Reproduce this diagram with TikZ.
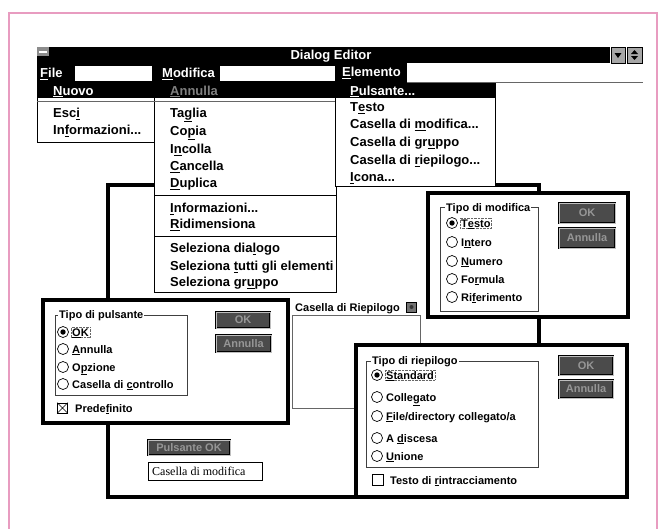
\documentclass[tikz,border=0pt]{standalone}
\usepackage{fontspec}
\setmainfont{Liberation Sans}
\newfontfamily\boxserif{Liberation Serif}
\usetikzlibrary{positioning}

\definecolor{rosa}{RGB}{232,156,192}
\definecolor{btngray}{RGB}{75,75,75}
\definecolor{btntext}{RGB}{150,150,150}
\newcommand{\menufont}{\fontsize{13}{15}\selectfont\bfseries}
\newcommand{\dlgfont}{\fontsize{11}{13}\selectfont\bfseries}

\begin{document}
\begin{tikzpicture}[x=1pt,y=-1pt,
    menuitem/.style={anchor=west,inner sep=0pt,text height=9pt,text depth=0pt,font=\menufont},
    dlgitem/.style={anchor=west,inner sep=0pt,text height=8pt,text depth=0pt,font=\dlgfont},
    menubox/.style={draw,fill=white,line width=0.8pt},
    dlgbox/.style={draw,fill=white,line width=3.2pt},
    grpbox/.style={draw=black!75,line width=0.6pt},
    radio/.style={circle,draw,fill=white,inner sep=0pt,minimum size=11pt,line width=0.7pt},
    chkbox/.style={draw,inner sep=0pt,minimum size=10pt,line width=0.7pt},
    focus/.style={draw=black!60,densely dotted,inner sep=1pt},
    btn/.style={draw=black,double=black!25,double distance=0.8pt,line width=0.8pt,
                fill=btngray,text=btntext,font=\dlgfont,inner sep=0pt}]
    \path[use as bounding box] (0,0) rectangle (661,528);
    \draw[rosa,line width=1.2pt] (9,530) -- (9,13) -- (657,13) -- (657,530);

    % dialog behind everything
    \draw[dlgbox] (108,185) rectangle (539,497);
    \node[dlgitem] (lbLabel) at (295,307) {Casella di Riepilogo};
    \node[draw,fill=black!55,inner sep=0pt,minimum size=10pt,line width=0.8pt] (lbButton) at (411.5,307) {};
    \fill[black!80] (lbButton.center) circle (2pt);
    \draw[black!60,line width=0.7pt] (292,315) rectangle (420,408);
    \node[btn,minimum width=82pt,minimum height=15pt] (okButton) at (189,447.5) {Pulsante OK};
    \draw[line width=0.7pt] (148,462) rectangle (262,480);
    \node[anchor=west,inner sep=0pt,font=\boxserif\fontsize{12}{14}\selectfont] (editBox) at (152,471) {Casella di modifica};

    % title bar
    \fill (37,47) rectangle (610,63);
    \fill[black!45] (37,47) rectangle (49,56);
    \fill[white] (39,50.5) rectangle (47,52.5);
    \node[menuitem,anchor=center,text=white] (title) at (331,55) {Dialog Editor};
    \draw[fill=black!35,line width=0.8pt] (611,47) rectangle (625,63);
    \draw[fill=black!35,line width=0.8pt] (627,47) rectangle (642,63);
    \fill (614.5,53) -- (621.5,53) -- (618,58) -- cycle;
    \fill (631,54) -- (638,54) -- (634.5,50) -- cycle;
    \fill (631,56) -- (638,56) -- (634.5,60) -- cycle;

    % menu bar
    \fill (37,63) rectangle (407,83);
    \fill[white] (75,65.5) rectangle (152,81);
    \fill[white] (220,65.5) rectangle (335,81);
    \draw[black!60,line width=0.8pt] (407,82) -- (643,82);
    \node[menuitem,text=white] (mFile) at (40,73)  {\underline{F}ile};
    \node[menuitem,text=white] (mMod)  at (162,73) {\underline{M}odifica};
    \node[menuitem,text=white] (mElem) at (342,72) {\underline{E}lemento};

    % open menus
    \draw[menubox] (37,83) rectangle (154,142);
    \draw[menubox] (154,83) rectangle (336,292);
    \draw[menubox] (335,83) rectangle (495,186);
    \fill (37,83) rectangle (495,98);
    \draw[black!60,line width=0.6pt] (37,101) -- (335,101);
    \draw[line width=0.8pt] (154,195) -- (336,195);
    \draw[line width=0.8pt] (154,236) -- (336,236);

    \node[menuitem,text=white]   (nuovo)   at (53,90.5)  {\underline{N}uovo};
    \node[menuitem]              (esci)    at (53,113)   {Esc\underline{i}};
    \node[menuitem]              (infoF)   at (53,130)   {In\underline{f}ormazioni...};

    \node[menuitem,text=black!50] (annulla) at (170,90.5) {\underline{A}nnulla};
    \node[menuitem] (taglia)  at (170,113) {Ta\underline{g}lia};
    \node[menuitem] (copia)   at (170,131) {Co\underline{p}ia};
    \node[menuitem] (incolla) at (170,149) {I\underline{n}colla};
    \node[menuitem] (cancella) at (170,166) {\underline{C}ancella};
    \node[menuitem] (duplica) at (170,183) {\underline{D}uplica};
    \node[menuitem] (infoM)   at (170,208) {\underline{I}nformazioni...};
    \node[menuitem] (ridim)   at (170,224) {\underline{R}idimensiona};
    \node[menuitem] (selDlg)  at (170,248) {Seleziona dia\underline{l}ogo};
    \node[menuitem] (selAll)  at (170,266) {Seleziona \underline{t}utti gli elementi};
    \node[menuitem] (selGrp)  at (170,282) {Seleziona gr\underline{u}ppo};

    \node[menuitem,text=white] (pulsante) at (350,90.5) {\underline{P}ulsante...};
    \node[menuitem] (testo)   at (350,107) {T\underline{e}sto};
    \node[menuitem] (casMod)  at (350,124) {Casella di \underline{m}odifica...};
    \node[menuitem] (casGrp)  at (350,142) {Casella di gr\underline{u}ppo};
    \node[menuitem] (casRie)  at (350,160) {Casella di \underline{r}iepilogo...};
    \node[menuitem] (icona)   at (350,177) {\underline{I}cona...};

    % Tipo di pulsante
    \draw[dlgbox] (43,300) rectangle (288,423);
    \draw[grpbox] (55,315) rectangle (187,395);
    \node[dlgitem,fill=white,inner xsep=1pt] (tpLabel) at (58,314) {Tipo di pulsante};
    \node[radio] (tp1) at (63,332) {};
    \node[radio] (tp2) at (63,349) {};
    \node[radio] (tp3) at (63,367) {};
    \node[radio] (tp4) at (63,384) {};
    \fill (tp1.center) circle (2.7pt);
    \node[dlgitem,focus] (tpOK)   at (71,332) {\underline{O}K};
    \node[dlgitem] (tpAnn)  at (72,349) {\underline{A}nnulla};
    \node[dlgitem] (tpOpz)  at (72,367) {O\underline{p}zione};
    \node[dlgitem] (tpChk)  at (72,384) {Casella di \underline{c}ontrollo};
    \node[chkbox] (tpDef) at (62.5,408) {};
    \draw[line width=0.6pt] (tpDef.north west) -- (tpDef.south east) (tpDef.north east) -- (tpDef.south west);
    \node[dlgitem] (tpDefTxt) at (75,408) {Prede\underline{f}inito};
    \node[btn,minimum width=54pt,minimum height=16pt] (tpBtnOK)  at (243,320)   {OK};
    \node[btn,minimum width=55pt,minimum height=17pt] (tpBtnAnn) at (243.5,343.5) {Annulla};

    % Tipo di modifica
    \draw[dlgbox] (428,193) rectangle (628,317);
    \draw[grpbox] (440,207) rectangle (538,311);
    \node[dlgitem,fill=white,inner xsep=1pt] (tmLabel) at (445,207) {Tipo di modifica};
    \node[radio] (tm1) at (452,223) {};
    \node[radio] (tm2) at (452,242) {};
    \node[radio] (tm3) at (452,261) {};
    \node[radio] (tm4) at (452,279) {};
    \node[radio] (tm5) at (452,297) {};
    \fill (tm1.center) circle (2.7pt);
    \node[dlgitem,focus] (tmTesto) at (460,223) {T\underline{e}sto};
    \node[dlgitem] (tmInt)  at (461,242) {I\underline{n}tero};
    \node[dlgitem] (tmNum)  at (461,261) {\underline{N}umero};
    \node[dlgitem] (tmForm) at (461,279) {Fo\underline{r}mula};
    \node[dlgitem] (tmRif)  at (461,297) {Ri\underline{f}erimento};
    \node[btn,minimum width=56pt,minimum height=20pt] (tmBtnOK)  at (587,213) {OK};
    \node[btn,minimum width=56pt,minimum height=20pt] (tmBtnAnn) at (587,238) {Annulla};

    % Tipo di riepilogo
    \draw[dlgbox] (356,345) rectangle (627,497);
    \draw[grpbox] (366,361) rectangle (538,467);
    \node[dlgitem,fill=white,inner xsep=1pt] (trLabel) at (371,360) {Tipo di riepilogo};
    \node[radio] (tr1) at (377,375) {};
    \node[radio] (tr2) at (377,397) {};
    \node[radio] (tr3) at (377,416) {};
    \node[radio] (tr4) at (377,438) {};
    \node[radio] (tr5) at (377,456) {};
    \fill (tr1.center) circle (2.7pt);
    \node[dlgitem,focus] (trStd) at (385,375) {\underline{S}tandard};
    \node[dlgitem] (trColl) at (386,397) {Colle\underline{g}ato};
    \node[dlgitem] (trFile) at (386,416) {\underline{F}ile/directory collegato/a};
    \node[dlgitem] (trDisc) at (386,438) {A \underline{d}iscesa};
    \node[dlgitem] (trUni)  at (386,456) {\underline{U}nione};
    \node[chkbox,minimum size=11pt] (trChk) at (378,480) {};
    \node[dlgitem] (trChkTxt) at (390,480) {Testo di \underline{r}intracciamento};
    \node[btn,minimum width=54pt,minimum height=19pt] (trBtnOK)  at (586,365.5) {OK};
    \node[btn,minimum width=54pt,minimum height=18pt] (trBtnAnn) at (586,389)   {Annulla};
\end{tikzpicture}
\end{document}
